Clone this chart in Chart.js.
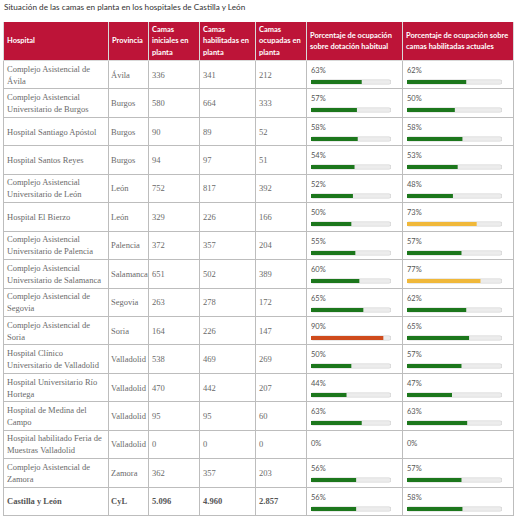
<!DOCTYPE html>
<html lang="es">
<head>
<meta charset="utf-8">
<script src="https://cdn.jsdelivr.net/npm/chart.js@4"></script>
<style>
  body { margin: 0; background: #fff; width: 520px; height: 520px; overflow: hidden; position: relative; }
  .titulo { position: absolute; left: 4px; top: 2px; font: 400 8.2px Lato, sans-serif; color: #333; white-space: nowrap; }
  table { position: absolute; left: 3px; top: 22px; width: 510px; border-collapse: collapse; table-layout: fixed; }
  th { background: #bd1438; color: #fff; font: 700 7.5px/11.5px Lato, sans-serif; text-align: left; padding: 0 3px; height: 38px; border: 1px solid #d9d9d9; border-top: 0; }
  td { font: 400 8.5px/12px "Liberation Serif", serif; color: #6a6a6a; padding: 0 3px; height: 28.45px; border: 1px solid #bdbdbd; box-sizing: border-box; vertical-align: middle; }
  td.prov { padding: 0 1px 0 2px; }
  tr.total td { font-weight: 700; color: #555; }
  td.pct { vertical-align: top; padding: 5px 3px 0 4px; }
  td.pct.cero { vertical-align: middle; padding-top: 0; }
  .pct span { display: block; font: 400 7.5px/10px Lato, sans-serif; color: #555; }
  .pct canvas { display: block; margin-top: 2px; }
</style>
</head>
<body>
<div class="titulo">Situación de las camas en planta en los hospitales de Castilla y León</div>
<table id="tabla">
  <colgroup>
    <col style="width:105px"><col style="width:40px"><col style="width:51px"><col style="width:56px">
    <col style="width:51px"><col style="width:96px"><col style="width:111px">
  </colgroup>
  <thead>
    <tr>
      <th>Hospital</th><th>Provincia</th><th>Camas iniciales en planta</th><th>Camas habilitadas en planta</th>
      <th>Camas ocupadas en planta</th><th>Porcentaje de ocupación sobre dotación habitual</th>
      <th>Porcentaje de ocupación sobre camas habilitadas actuales</th>
    </tr>
  </thead>
  <tbody></tbody>
</table>
<script>
const hospitales = [
  'Complejo Asistencial de Ávila',
  'Complejo Asistencial Universitario de Burgos',
  'Hospital Santiago Apóstol',
  'Hospital Santos Reyes',
  'Complejo Asistencial Universitario de León',
  'Hospital El Bierzo',
  'Complejo Asistencial Universitario de Palencia',
  'Complejo Asistencial Universitario de Salamanca',
  'Complejo Asistencial de Segovia',
  'Complejo Asistencial de Soria',
  'Hospital Clínico Universitario de Valladolid',
  'Hospital Universitario Río Hortega',
  'Hospital de Medina del Campo',
  'Hospital habilitado Feria de Muestras Valladolid',
  'Complejo Asistencial de Zamora',
  'Castilla y León'
];
const provincias = ['Ávila', 'Burgos', 'Burgos', 'Burgos', 'León', 'León', 'Palencia', 'Salamanca',
  'Segovia', 'Soria', 'Valladolid', 'Valladolid', 'Valladolid', 'Valladolid', 'Zamora', 'CyL'];
const camasIniciales = [336, 580, 90, 94, 752, 329, 372, 651, 263, 164, 538, 470, 95, 0, 362, 5096];
const camasHabilitadas = [341, 664, 89, 97, 817, 226, 357, 502, 278, 226, 469, 442, 95, 0, 357, 4960];
const camasOcupadas = [212, 333, 52, 51, 392, 166, 204, 389, 172, 147, 269, 207, 60, 0, 203, 2857];
const pctDotacion = [63, 57, 58, 54, 52, 50, 55, 60, 65, 90, 50, 44, 63, 0, 56, 56];
const pctHabilitadas = [62, 50, 58, 53, 48, 73, 57, 77, 62, 65, 57, 47, 63, 0, 57, 58];

// separador de miles con punto
function fmt(n) {
  return String(n).replace(/\B(?=(\d{3})+(?!\d))/g, '.');
}

function colorBarra(v) {
  if (v >= 85) return '#cf4b1c';
  if (v >= 70) return '#f0b83a';
  return '#1c771c';
}

function celdaPct(td, valor, ancho) {
  td.className = 'pct';
  const txt = document.createElement('span');
  txt.textContent = valor + '%';
  td.appendChild(txt);
  if (valor === 0) {
    td.className = 'pct cero';
    return;
  }
  const canvas = document.createElement('canvas');
  canvas.width = ancho;
  canvas.height = 8;
  td.appendChild(canvas);
  new Chart(canvas.getContext('2d'), {
    type: 'bar',
    data: {
      labels: [''],
      datasets: [
        {
          data: [valor],
          backgroundColor: colorBarra(valor),
          barThickness: 3.5,
          grouped: false,
          borderRadius: 0
        },
        {
          data: [100],
          backgroundColor: '#ececec',
          borderColor: '#d8d8d8',
          borderWidth: 1,
          borderSkipped: false,
          barThickness: 5,
          grouped: false,
          borderRadius: 2.5
        }
      ]
    },
    options: {
      indexAxis: 'y',
      responsive: false,
      animation: false,
      events: [],
      layout: { padding: 0 },
      scales: {
        x: { display: false, min: 0, max: 100 },
        y: { display: false }
      },
      plugins: {
        legend: { display: false },
        tooltip: { enabled: false }
      }
    }
  });
}

const tbody = document.querySelector('#tabla tbody');
hospitales.forEach((h, i) => {
  const tr = document.createElement('tr');
  if (i === hospitales.length - 1) tr.className = 'total';
  [h, provincias[i], fmt(camasIniciales[i]), fmt(camasHabilitadas[i]), fmt(camasOcupadas[i])].forEach((t, j) => {
    const td = document.createElement('td');
    td.textContent = t;
    if (j === 1) td.className = 'prov';
    tr.appendChild(td);
  });
  const td1 = document.createElement('td');
  tr.appendChild(td1);
  const td2 = document.createElement('td');
  tr.appendChild(td2);
  tbody.appendChild(tr);
  celdaPct(td1, pctDotacion[i], 80);
  celdaPct(td2, pctHabilitadas[i], 95);
});
</script>
</body>
</html>
